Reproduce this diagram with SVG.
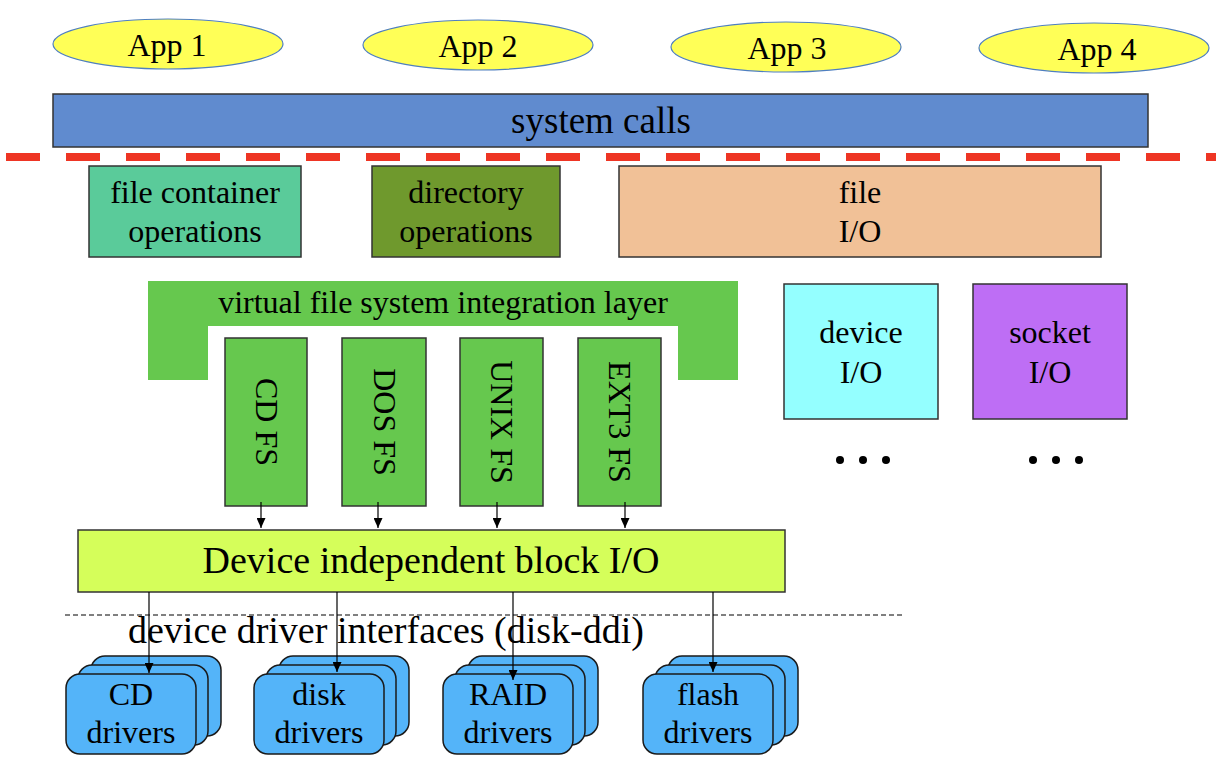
<svg xmlns="http://www.w3.org/2000/svg" width="1226" height="772" viewBox="0 0 1226 772">
<defs>
<style>
text{font-family:"Liberation Serif","Times New Roman",serif;fill:#000;}
.t32{font-size:32px;text-anchor:middle;}
.app{fill:#ffff57;stroke:#4f7fc0;stroke-width:1.2;}
.box{stroke:#333;stroke-width:1.5;}
.drv{fill:#54b4f9;stroke:#1a1a1a;stroke-width:1.5;}
.fs{fill:#66c84e;stroke:#333;stroke-width:1.5;}
.conn{stroke:#000;stroke-width:1.2;fill:none;marker-end:url(#arr);}
</style>
<marker id="arr" markerUnits="userSpaceOnUse" markerWidth="10" markerHeight="9" refX="10" refY="4.5" orient="auto">
<path d="M0,0 L10,4.5 L0,9 Z" fill="#000"/>
</marker>
</defs>

<g id="app1"><ellipse class="app" cx="168" cy="44" rx="115" ry="25"/><text class="t32" x="167" y="56">App 1</text></g>
<g id="app2"><ellipse class="app" cx="478" cy="45" rx="115" ry="25"/><text class="t32" x="478" y="57">App 2</text></g>
<g id="app3"><ellipse class="app" cx="786" cy="47" rx="115" ry="25"/><text class="t32" x="787" y="59">App 3</text></g>
<g id="app4"><ellipse class="app" cx="1094" cy="48" rx="115" ry="25"/><text class="t32" x="1097" y="60">App 4</text></g>

<g id="syscalls"><rect class="box" x="53" y="94" width="1095" height="53" fill="#608bcf"/><text x="601" y="133" style="font-size:37px;text-anchor:middle;">system calls</text></g>

<g id="boundary"><line x1="6" y1="157" x2="1216" y2="157" stroke="#ee3524" stroke-width="8" stroke-dasharray="34 26"/></g>

<g id="filecontainer"><rect class="box" x="89" y="166" width="212" height="91" fill="#5acb9a"/><text class="t32" x="195" y="203">file container</text><text class="t32" x="195" y="242">operations</text></g>
<g id="directory"><rect class="box" x="372" y="166" width="188" height="91" fill="#6f992d"/><text class="t32" x="466" y="203">directory</text><text class="t32" x="466" y="242">operations</text></g>
<g id="fileio"><rect class="box" x="619" y="166" width="482" height="91" fill="#f1c197"/><text class="t32" x="860" y="203">file</text><text class="t32" x="860" y="242">I/O</text></g>

<g id="vfs"><path d="M148,281 H738 V380 H678 V326 H208 V380 H148 Z" fill="#66c84e"/><text class="t32" x="443" y="313">virtual file system integration layer</text></g>

<g id="cdfs"><rect class="fs" x="225" y="338" width="82" height="168"/><text class="t32" transform="translate(266,422) rotate(90)" x="0" y="10.5">CD FS</text></g>
<g id="dosfs"><rect class="fs" x="342" y="338" width="84" height="168"/><text class="t32" transform="translate(384,422) rotate(90)" x="0" y="10.5">DOS FS</text></g>
<g id="unixfs"><rect class="fs" x="460" y="338" width="83" height="168"/><text class="t32" transform="translate(501,422) rotate(90)" x="0" y="10.5">UNIX FS</text></g>
<g id="ext3fs"><rect class="fs" x="578" y="338" width="83" height="168"/><text class="t32" transform="translate(619,422) rotate(90)" x="0" y="10.5">EXT3 FS</text></g>

<g id="deviceio"><rect class="box" x="784" y="284" width="154" height="135" fill="#94ffff"/><text class="t32" x="861" y="343">device</text><text class="t32" x="861" y="383">I/O</text></g>
<g id="socketio"><rect class="box" x="973" y="284" width="154" height="135" fill="#be6ef5"/><text class="t32" x="1050" y="343">socket</text><text class="t32" x="1050" y="383">I/O</text></g>

<g id="dots1" fill="#000"><circle cx="840" cy="460" r="4"/><circle cx="863" cy="460" r="4"/><circle cx="886" cy="460" r="4"/></g>
<g id="dots2" fill="#000"><circle cx="1033" cy="460" r="4"/><circle cx="1056" cy="460" r="4"/><circle cx="1079" cy="460" r="4"/></g>

<g id="blockio"><rect class="box" x="78" y="530" width="707" height="62" fill="#d5fe5a"/><text x="431" y="573" style="font-size:38px;text-anchor:middle;">Device independent block I/O</text></g>

<g id="ddi"><line x1="65" y1="615" x2="903" y2="615" stroke="#000" stroke-width="1" stroke-dasharray="5 3"/><text x="128" y="643" style="font-size:38px;">device driver interfaces (disk-ddi)</text></g>

<g id="cddrivers"><rect class="drv" x="91" y="656" width="130" height="80" rx="14"/><rect class="drv" x="78" y="665" width="130" height="80" rx="14"/><rect class="drv" x="66" y="674" width="130" height="80" rx="14"/><text class="t32" x="131" y="705">CD</text><text class="t32" x="131" y="743">drivers</text></g>
<g id="diskdrivers"><rect class="drv" x="279" y="656" width="130" height="80" rx="14"/><rect class="drv" x="266" y="665" width="130" height="80" rx="14"/><rect class="drv" x="254" y="674" width="130" height="80" rx="14"/><text class="t32" x="319" y="705">disk</text><text class="t32" x="319" y="743">drivers</text></g>
<g id="raiddrivers"><rect class="drv" x="468" y="656" width="130" height="80" rx="14"/><rect class="drv" x="455" y="665" width="130" height="80" rx="14"/><rect class="drv" x="443" y="674" width="130" height="80" rx="14"/><text class="t32" x="508" y="705">RAID</text><text class="t32" x="508" y="743">drivers</text></g>
<g id="flashdrivers"><rect class="drv" x="668" y="656" width="130" height="80" rx="14"/><rect class="drv" x="655" y="665" width="130" height="80" rx="14"/><rect class="drv" x="643" y="674" width="130" height="80" rx="14"/><text class="t32" x="708" y="705">flash</text><text class="t32" x="708" y="743">drivers</text></g>

<g id="connectors">
<line class="conn" x1="261" y1="502" x2="261" y2="528"/>
<line class="conn" x1="378" y1="502" x2="378" y2="528"/>
<line class="conn" x1="497" y1="502" x2="497" y2="528"/>
<line class="conn" x1="625" y1="502" x2="625" y2="528"/>
<line class="conn" x1="149" y1="592" x2="149" y2="673"/>
<line class="conn" x1="337" y1="592" x2="337" y2="672"/>
<line class="conn" x1="513" y1="592" x2="513" y2="680"/>
<line class="conn" x1="713" y1="592" x2="713" y2="672"/>
</g>
</svg>
